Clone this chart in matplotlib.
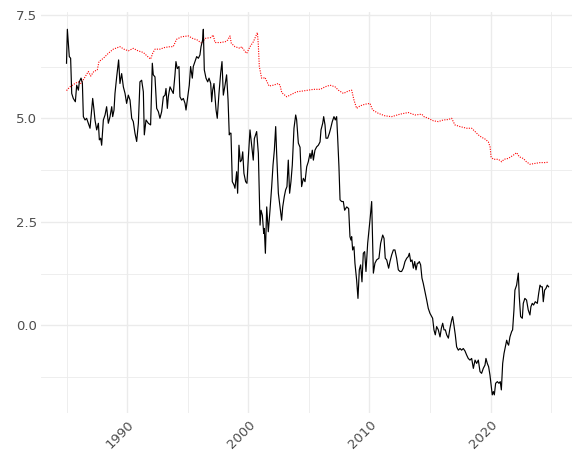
import matplotlib
matplotlib.use('Agg')
import matplotlib.pyplot as plt

# black series (decimal year, value)
black_years = [
    1985.00, 1985.07, 1985.23, 1985.34, 1985.43, 1985.56, 1985.73, 1985.84, 1985.98, 1986.06,
    1986.20, 1986.31, 1986.39, 1986.53, 1986.66, 1986.80, 1986.94, 1987.08, 1987.16, 1987.27,
    1987.35, 1987.49, 1987.63, 1987.71, 1987.82, 1987.90, 1988.04, 1988.18, 1988.31, 1988.45,
    1988.59, 1988.73, 1988.81, 1988.92, 1989.00, 1989.14, 1989.30, 1989.41, 1989.55, 1989.69,
    1989.83, 1989.96, 1990.10, 1990.24, 1990.38, 1990.51, 1990.65, 1990.79, 1990.93, 1991.06,
    1991.20, 1991.34, 1991.42, 1991.56, 1991.75, 1991.94, 1992.08, 1992.16, 1992.30, 1992.44,
    1992.58, 1992.71, 1992.85, 1992.99, 1993.13, 1993.21, 1993.32, 1993.40, 1993.54, 1993.68,
    1993.81, 1993.95, 1994.03, 1994.14, 1994.28, 1994.36, 1994.50, 1994.64, 1994.78, 1994.86,
    1995.00, 1995.13, 1995.24, 1995.38, 1995.46, 1995.60, 1995.74, 1995.88, 1996.01, 1996.10,
    1996.23, 1996.29, 1996.37, 1996.51, 1996.65, 1996.76, 1996.90, 1996.98, 1997.06, 1997.17,
    1997.34, 1997.44, 1997.58, 1997.72, 1997.83, 1997.94, 1998.08, 1998.21, 1998.33, 1998.43,
    1998.49, 1998.57, 1998.68, 1998.82, 1998.90, 1999.04, 1999.12, 1999.23, 1999.34, 1999.45,
    1999.54, 1999.64, 1999.78, 1999.89, 2000.00, 2000.14, 2000.28, 2000.41, 2000.50, 2000.69,
    2000.83, 2000.97, 2001.05, 2001.16, 2001.27, 2001.32, 2001.41, 2001.52, 2001.65, 2001.79,
    2001.93, 2002.04, 2002.15, 2002.26, 2002.34, 2002.48, 2002.62, 2002.75, 2002.84, 2002.97,
    2003.08, 2003.19, 2003.30, 2003.41, 2003.52, 2003.63, 2003.77, 2003.91, 2003.99, 2004.13,
    2004.27, 2004.40, 2004.54, 2004.68, 2004.82, 2004.95, 2005.09, 2005.17, 2005.28, 2005.37,
    2005.50, 2005.64, 2005.78, 2005.92, 2006.00, 2006.14, 2006.22, 2006.33, 2006.41, 2006.55,
    2006.69, 2006.80, 2006.93, 2007.07, 2007.18, 2007.29, 2007.37, 2007.48, 2007.57, 2007.70,
    2007.84, 2007.95, 2008.12, 2008.28, 2008.39, 2008.47, 2008.53, 2008.61, 2008.72, 2008.80,
    2008.94, 2009.05, 2009.16, 2009.27, 2009.38, 2009.49, 2009.60, 2009.71, 2009.85, 2010.04,
    2010.18, 2010.32, 2010.45, 2010.59, 2010.78, 2010.92, 2011.09, 2011.20, 2011.30, 2011.42,
    2011.58, 2011.69, 2011.83, 2011.97, 2012.10, 2012.24, 2012.38, 2012.52, 2012.65, 2012.79,
    2012.93, 2013.07, 2013.20, 2013.29, 2013.40, 2013.51, 2013.62, 2013.73, 2013.84, 2013.95,
    2014.03, 2014.11, 2014.22, 2014.33, 2014.44, 2014.58, 2014.72, 2014.85, 2014.99, 2015.13,
    2015.21, 2015.32, 2015.43, 2015.54, 2015.68, 2015.82, 2015.93, 2016.04, 2016.15, 2016.26,
    2016.37, 2016.51, 2016.64, 2016.78, 2016.86, 2016.97, 2017.08, 2017.19, 2017.33, 2017.47,
    2017.60, 2017.74, 2017.88, 2018.02, 2018.15, 2018.29, 2018.43, 2018.57, 2018.71, 2018.84,
    2018.98, 2019.12, 2019.25, 2019.39, 2019.53, 2019.61, 2019.72, 2019.83, 2019.94, 2020.05,
    2020.13, 2020.22, 2020.30, 2020.41, 2020.55, 2020.68, 2020.79, 2020.88, 2020.99, 2021.10,
    2021.18, 2021.32, 2021.40, 2021.48, 2021.59, 2021.73, 2021.81, 2021.92, 2022.00, 2022.14,
    2022.28, 2022.36, 2022.47, 2022.61, 2022.69, 2022.82, 2022.96, 2023.10, 2023.24, 2023.32,
    2023.43, 2023.54, 2023.68, 2023.85, 2023.96, 2024.07, 2024.15, 2024.26, 2024.34, 2024.45,
    2024.56, 2024.67, 2024.78,
]
black_values = [
    6.33, 7.15, 6.49, 6.45, 5.60, 5.48, 5.40, 5.80, 5.68, 5.88,
    5.97, 5.85, 5.04, 4.96, 5.00, 4.88, 4.76, 5.20, 5.48, 5.20,
    4.96, 4.72, 4.88, 4.48, 4.52, 4.35, 4.96, 5.08, 5.28, 4.88,
    5.04, 5.28, 5.04, 5.20, 5.60, 6.00, 6.41, 5.84, 6.08, 5.76,
    5.60, 5.36, 5.56, 5.44, 5.00, 4.92, 4.64, 4.44, 4.88, 5.88,
    5.92, 5.64, 4.60, 4.96, 4.88, 4.84, 6.33, 6.05, 6.00, 5.24,
    5.16, 5.00, 5.16, 5.52, 5.56, 5.72, 5.24, 5.52, 5.76, 5.68,
    5.60, 6.05, 6.37, 6.20, 6.25, 5.52, 5.44, 5.48, 5.36, 5.20,
    5.52, 5.80, 6.25, 5.97, 6.25, 6.37, 6.49, 6.45, 6.53, 6.73,
    6.89, 7.15, 6.17, 5.97, 5.88, 5.97, 5.84, 5.40, 5.68, 5.84,
    5.20, 5.00, 5.60, 6.09, 6.37, 5.56, 5.80, 6.05, 5.44, 4.60,
    4.64, 4.64, 3.47, 3.39, 3.31, 3.71, 3.19, 4.35, 3.95, 3.99,
    4.19, 3.67, 3.47, 3.43, 4.03, 4.72, 4.35, 3.99, 4.51, 4.68,
    4.15, 2.42, 2.78, 2.66, 2.22, 2.34, 1.74, 2.86, 2.26, 2.78,
    3.35, 3.87, 4.23, 4.80, 4.15, 3.19, 2.86, 2.54, 2.86, 3.11,
    3.27, 3.35, 3.99, 3.19, 3.47, 3.87, 4.76, 5.08, 4.96, 4.40,
    4.30, 3.35, 3.55, 3.47, 3.83, 3.95, 4.15, 4.03, 4.23, 3.99,
    4.23, 4.31, 4.35, 4.43, 4.72, 4.88, 5.04, 4.84, 4.52, 4.52,
    4.64, 4.76, 4.92, 5.04, 4.96, 5.04, 4.56, 3.83, 3.03, 2.99,
    2.99, 2.78, 2.86, 2.82, 2.14, 2.06, 2.14, 1.82, 1.90, 1.50,
    1.09, 0.65, 1.34, 1.46, 1.05, 1.74, 1.78, 1.30, 1.98, 2.54,
    2.99, 1.26, 1.50, 1.58, 1.62, 1.98, 2.18, 2.10, 1.62, 1.58,
    1.38, 1.54, 1.70, 1.82, 1.82, 1.62, 1.34, 1.30, 1.30, 1.38,
    1.54, 1.62, 1.66, 1.74, 1.54, 1.58, 1.38, 1.54, 1.34, 1.50,
    1.50, 1.54, 1.46, 1.14, 1.01, 0.81, 0.61, 0.41, 0.29, 0.21,
    0.17, -0.11, -0.23, -0.03, -0.11, -0.28, -0.07, 0.05, -0.11, -0.11,
    -0.23, -0.31, -0.07, 0.13, 0.21, 0.00, -0.23, -0.52, -0.60, -0.56,
    -0.60, -0.56, -0.62, -0.72, -0.80, -0.84, -0.80, -1.04, -0.84, -0.92,
    -0.84, -1.12, -1.16, -1.04, -0.96, -0.80, -0.92, -1.00, -1.20, -1.48,
    -1.68, -1.60, -1.68, -1.40, -1.36, -1.40, -1.36, -1.56, -0.92, -0.68,
    -0.56, -0.36, -0.44, -0.48, -0.28, -0.15, -0.11, 0.37, 0.85, 0.97,
    1.26, 0.69, 0.21, 0.17, 0.53, 0.65, 0.61, 0.37, 0.25, 0.45,
    0.53, 0.49, 0.57, 0.53, 0.77, 0.97, 0.93, 0.93, 0.57, 0.85,
    0.89, 0.97, 0.93,
]

# red dotted series
red_years = [
    1985.00, 1985.29, 1985.70, 1985.97, 1986.20, 1986.53, 1986.80, 1987.00, 1987.25, 1987.54,
    1987.68, 1988.04, 1988.45, 1988.86, 1989.41, 1989.74, 1990.10, 1990.51, 1990.90, 1991.34,
    1991.70, 1991.94, 1992.11, 1992.30, 1992.71, 1993.10, 1993.54, 1993.80, 1994.09, 1994.50,
    1995.05, 1995.41, 1995.80, 1996.16, 1996.43, 1996.90, 1997.11, 1997.25, 1997.70, 1998.10,
    1998.30, 1998.49, 1998.60, 1998.90, 1999.32, 1999.45, 1999.73, 1999.87, 2000.14, 2000.42,
    2000.75, 2000.82, 2000.91, 2001.10, 2001.25, 2001.37, 2001.71, 2002.07, 2002.48, 2002.62,
    2002.76, 2003.17, 2003.58, 2003.99, 2004.50, 2004.95, 2005.40, 2005.95, 2006.33, 2006.75,
    2007.16, 2007.43, 2007.85, 2008.26, 2008.53, 2008.72, 2008.94, 2009.22, 2009.63, 2010.04,
    2010.26, 2010.73, 2011.28, 2011.83, 2012.52, 2013.20, 2013.75, 2014.31, 2014.50, 2014.85,
    2015.27, 2015.68, 2016.09, 2016.50, 2016.78, 2017.05, 2017.47, 2018.02, 2018.43, 2018.71,
    2018.98, 2019.26, 2019.53, 2019.81, 2019.95, 2020.03, 2020.22, 2020.63, 2020.91, 2021.10,
    2021.45, 2021.87, 2022.14, 2022.36, 2022.69, 2022.95, 2023.24, 2023.65, 2024.07, 2024.48,
    2024.76,
]
red_values = [
    5.67, 5.76, 5.84, 5.88, 5.84, 6.00, 6.13, 6.02, 6.13, 6.17,
    6.37, 6.45, 6.57, 6.67, 6.73, 6.67, 6.63, 6.69, 6.63, 6.59,
    6.49, 6.43, 6.57, 6.67, 6.67, 6.71, 6.73, 6.73, 6.91, 6.97,
    6.99, 6.93, 6.89, 6.81, 6.93, 6.95, 7.01, 6.83, 6.83, 6.85,
    6.89, 6.99, 6.81, 6.73, 6.69, 6.73, 6.61, 6.57, 6.73, 6.85,
    7.07, 6.81, 6.25, 5.97, 5.97, 5.99, 5.78, 5.80, 5.84, 5.80,
    5.62, 5.52, 5.58, 5.64, 5.66, 5.68, 5.70, 5.70, 5.76, 5.80,
    5.76, 5.68, 5.60, 5.66, 5.68, 5.44, 5.24, 5.30, 5.34, 5.36,
    5.20, 5.12, 5.06, 5.04, 5.10, 5.14, 5.08, 5.10, 5.04, 5.00,
    4.94, 4.92, 4.96, 4.97, 5.00, 4.84, 4.80, 4.76, 4.76, 4.68,
    4.60, 4.54, 4.50, 4.43, 4.31, 4.07, 4.01, 4.01, 3.95, 4.01,
    4.03, 4.11, 4.17, 4.07, 4.03, 3.95, 3.89, 3.91, 3.93, 3.93,
    3.94,
]

x_major = [1990, 2000, 2010, 2020]
x_minor = [1985, 1995, 2005, 2015, 2025]
y_major = [0.0, 2.5, 5.0, 7.5]
y_minor = [-1.25, 1.25, 3.75, 6.25]


def main():
    plt.rcParams['font.family'] = ['DejaVu Sans']

    fig = plt.figure(figsize=(5.72, 4.55), dpi=100)
    ax = fig.add_axes([0.0722, 0.0923, 0.9278, 0.882])

    ax.plot(red_years, red_values, color='red', linewidth=0.8,
            linestyle=(0, (1.0, 1.2)), zorder=3)
    ax.plot(black_years, black_values, color='black', linewidth=0.85, zorder=4)

    ax.set_xlim(1982.92, 2026.71)
    ax.set_ylim(-2.118, 7.575)

    style_axes(ax)

    fig.savefig('out.png', dpi=100, facecolor='white')
    plt.close(fig)

    return


def style_axes(ax):
    grid = '#EBEBEB'
    ax.set_xticks(x_major)
    ax.set_xticks(x_minor, minor=True)
    ax.set_yticks(y_major)
    ax.set_yticks(y_minor, minor=True)
    ax.set_yticklabels(['{:.1f}'.format(v) for v in y_major])

    ax.grid(which='major', color=grid, linewidth=1.0)
    ax.grid(which='minor', color=grid, linewidth=0.6)
    ax.set_axisbelow(True)

    for spine in ax.spines.values():
        spine.set_visible(False)

    ax.tick_params(which='both', length=0)
    ax.tick_params(axis='y', labelsize=9.5, labelcolor='#4D4D4D', pad=3)
    ax.tick_params(axis='x', labelsize=9.5, labelcolor='#4D4D4D', pad=4)
    for label in ax.get_xticklabels():
        label.set_rotation(45)
        label.set_ha('right')
        label.set_va('top')
        label.set_rotation_mode('anchor')

    return


if __name__ == '__main__':
    main()
